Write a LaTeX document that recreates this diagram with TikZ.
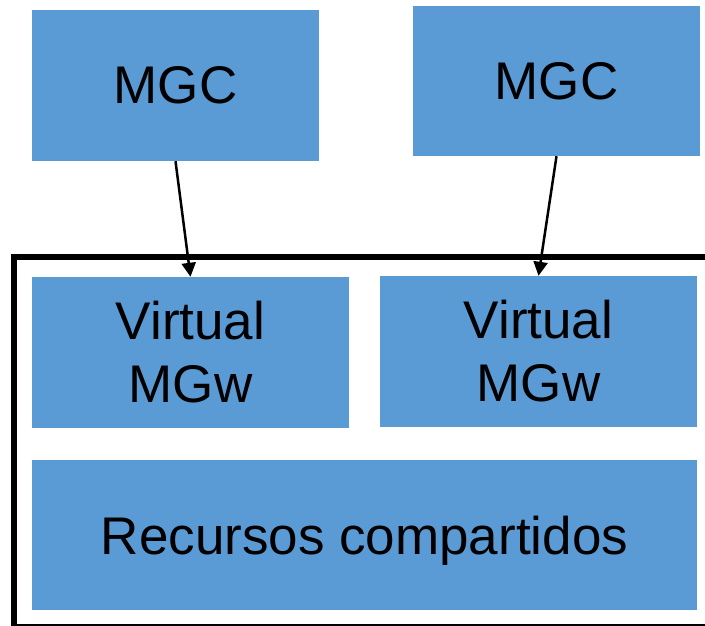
\documentclass[tikz,border=0pt]{standalone}
\usepackage{fontspec}
\setmainfont{Liberation Sans}
\usetikzlibrary{arrows.meta}
\definecolor{boxblue}{HTML}{5B9BD5}

\tikzset{
  bluebox/.style={fill=boxblue, inner sep=0pt, align=center,
    font=\fontsize{53}{63}\selectfont},
  conn/.style={line width=2.5pt, -{Triangle[length=14pt,width=14pt]}}
}

\begin{document}
\begin{tikzpicture}[x=1pt,y=-1pt]
  \clip (0,0) rectangle (705,626);
  \useasboundingbox (0,0) rectangle (705,626);

  % outer frame, runs off the right and bottom edges
  \draw[line width=6pt] (14,257) rectangle (720,627);

  \node[bluebox, minimum width=287pt, minimum height=151pt] (mgcA) at (175.5,85.5) {MGC};
  \node[bluebox, minimum width=287pt, minimum height=150pt] (mgcB) at (556.5,81) {MGC};
  \node[bluebox, minimum width=317pt, minimum height=151pt] (vmgwA) at (190.5,352.5) {Virtual\\MGw};
  \node[bluebox, minimum width=317pt, minimum height=151pt] (vmgwB) at (538.5,351.5) {Virtual\\MGw};
  \node[bluebox, minimum width=665pt, minimum height=150pt, text depth=0pt] (recursos) at (364.5,535) {Recursos compartidos};

  \draw[conn] (mgcA.south) -- (vmgwA.north);
  \draw[conn] (mgcB.south) -- (vmgwB.north);
\end{tikzpicture}
\end{document}
